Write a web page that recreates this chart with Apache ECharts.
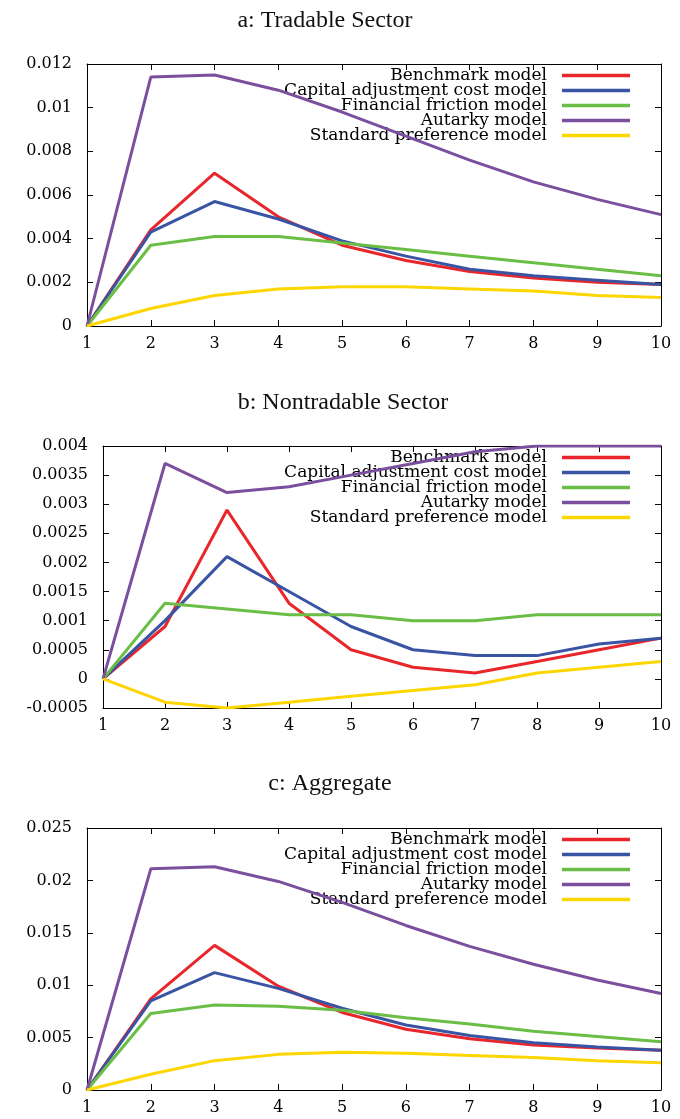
<!DOCTYPE html>
<html>
<head>
<meta charset="utf-8">
<script src="https://cdn.jsdelivr.net/npm/echarts@6/dist/echarts.min.js"></script>
<style>
  html, body { margin: 0; padding: 0; background: #fff; }
  #chart { width: 680px; height: 1119px; }
</style>
</head>
<body>
<div id="chart"></div>
<script>
// horizon 1..10
const steps = ["1", "2", "3", "4", "5", "6", "7", "8", "9", "10"];
const models = [
  "Benchmark model",
  "Capital adjustment cost model",
  "Financial friction model",
  "Autarky model",
  "Standard preference model",
];
const colors = ["#e8262b", "#3a54a4", "#6abd45", "#7b4f9e", "#fdd600"];

// a: Tradable Sector
const tradBenchmark = [0, 0.0044, 0.0070, 0.0050, 0.0037, 0.0030, 0.0025, 0.0022, 0.0020, 0.0019];
const tradCapital   = [0, 0.0043, 0.0057, 0.0049, 0.0039, 0.0032, 0.0026, 0.0023, 0.0021, 0.0019];
const tradFinancial = [0, 0.0037, 0.0041, 0.0041, 0.0038, 0.0035, 0.0032, 0.0029, 0.0026, 0.0023];
const tradAutarky   = [0, 0.0114, 0.0115, 0.0108, 0.0098, 0.0087, 0.0076, 0.0066, 0.0058, 0.0051];
const tradStandard  = [0, 0.0008, 0.0014, 0.0017, 0.0018, 0.0018, 0.0017, 0.0016, 0.0014, 0.0013];

// b: Nontradable Sector
const nonBenchmark = [0, 0.0009, 0.0029, 0.0013, 0.0005, 0.0002, 0.0001, 0.0003, 0.0005, 0.0007];
const nonCapital   = [0, 0.0010, 0.0021, 0.0015, 0.0009, 0.0005, 0.0004, 0.0004, 0.0006, 0.0007];
const nonFinancial = [0, 0.0013, 0.0012, 0.0011, 0.0011, 0.0010, 0.0010, 0.0011, 0.0011, 0.0011];
const nonAutarky   = [0, 0.0037, 0.0032, 0.0033, 0.0035, 0.0037, 0.0039, 0.0040, 0.0040, 0.0040];
const nonStandard  = [0, -0.0004, -0.0005, -0.0004, -0.0003, -0.0002, -0.0001, 0.0001, 0.0002, 0.0003];

// c: Aggregate
const aggBenchmark = [0, 0.0087, 0.0138, 0.0099, 0.0074, 0.0058, 0.0049, 0.0043, 0.0040, 0.0038];
const aggCapital   = [0, 0.0085, 0.0112, 0.0097, 0.0078, 0.0062, 0.0052, 0.0045, 0.0041, 0.0038];
const aggFinancial = [0, 0.0073, 0.0081, 0.0080, 0.0076, 0.0069, 0.0063, 0.0056, 0.0051, 0.0046];
const aggAutarky   = [0, 0.0211, 0.0213, 0.0199, 0.0179, 0.0157, 0.0137, 0.0120, 0.0105, 0.0092];
const aggStandard  = [0, 0.0015, 0.0028, 0.0034, 0.0036, 0.0035, 0.0033, 0.0031, 0.0028, 0.0026];

const titles = ["a: Tradable Sector", "b: Nontradable Sector", "c: Aggregate"];
const yMin = [0, -0.0005, 0];
const yMax = [0.012, 0.004, 0.025];
const yStep = [0.002, 0.0005, 0.005];

const panels = [
  [tradBenchmark, tradCapital, tradFinancial, tradAutarky, tradStandard],
  [nonBenchmark, nonCapital, nonFinancial, nonAutarky, nonStandard],
  [aggBenchmark, aggCapital, aggFinancial, aggAutarky, aggStandard],
];

const serif = "DejaVu Serif";
const gridLayout = [
  { left: 87, right: 19, top: 64, height: 262 },
  { left: 103, right: 19, top: 446, height: 262 },
  { left: 87, right: 19, top: 828, height: 262 },
];
const titlePos = [
  { left: 320, top: 4 },
  { left: 338, top: 386 },
  { left: 325, top: 767 },
];
const legendTop = [67, 449, 831];

const frame = { show: true, onZero: false, lineStyle: { color: "#000", width: 1 } };
const ticks = { show: true, inside: true, length: 6, lineStyle: { color: "#000" } };

const xAxis = [];
const yAxis = [];
const series = [];

panels.forEach((lines, p) => {
  xAxis.push({
    gridIndex: p, type: "category", data: steps, boundaryGap: false,
    axisLine: frame, axisTick: ticks, splitLine: { show: false },
    axisLabel: { color: "#000", fontFamily: serif, fontSize: 16, margin: 10 },
  });
  xAxis.push({
    gridIndex: p, type: "category", data: steps, boundaryGap: false, position: "top",
    axisLine: frame, axisTick: ticks, axisLabel: { show: false }, splitLine: { show: false },
  });
  yAxis.push({
    gridIndex: p, type: "value", min: yMin[p], max: yMax[p], interval: yStep[p],
    axisLine: frame, axisTick: ticks, splitLine: { show: false },
    axisLabel: {
      color: "#000", fontFamily: serif, fontSize: 16, margin: 15,
      formatter: (v) => String(+v.toFixed(6)),
    },
  });
  yAxis.push({
    gridIndex: p, type: "value", min: yMin[p], max: yMax[p], interval: yStep[p], position: "right",
    axisLine: frame, axisTick: ticks, axisLabel: { show: false }, splitLine: { show: false },
  });

  lines.forEach((vals, i) => {
    series.push({
      type: "line",
      name: models[i],
      xAxisIndex: p * 2,
      yAxisIndex: p * 2,
      data: vals,
      symbol: "none",
      showSymbol: false,
      z: 3,
      color: colors[i],
      lineStyle: { width: 3, color: colors[i] },
      emphasis: { disabled: true },
    });
  });
});

const option = {
  backgroundColor: "#fff",
  animation: false,
  title: titles.map((t, p) => ({
    text: t,
    left: titlePos[p].left,
    top: titlePos[p].top,
    textAlign: "center",
    textStyle: { fontFamily: "Liberation Serif", fontWeight: "normal", fontSize: 24, color: "#111" },
  })),
  legend: legendTop.map((top) => ({
    data: models,
    orient: "vertical",
    align: "right",
    right: 50,
    top: top,
    itemWidth: 68,
    itemHeight: 14,
    itemGap: -2,
    padding: 0,
    z: 1,
    selectedMode: false,
    icon: "path://M0,0L68,0L68,3.5L0,3.5Z",
    itemStyle: { borderWidth: 0 },
    textStyle: { fontFamily: serif, fontSize: 17, color: "#000", padding: [0, 10, 0, 0] },
  })),
  grid: gridLayout,
  xAxis: xAxis,
  yAxis: yAxis,
  series: series,
};

const chart = echarts.init(document.getElementById("chart"), null, { renderer: "canvas" });
chart.setOption(option);
</script>
</body>
</html>
